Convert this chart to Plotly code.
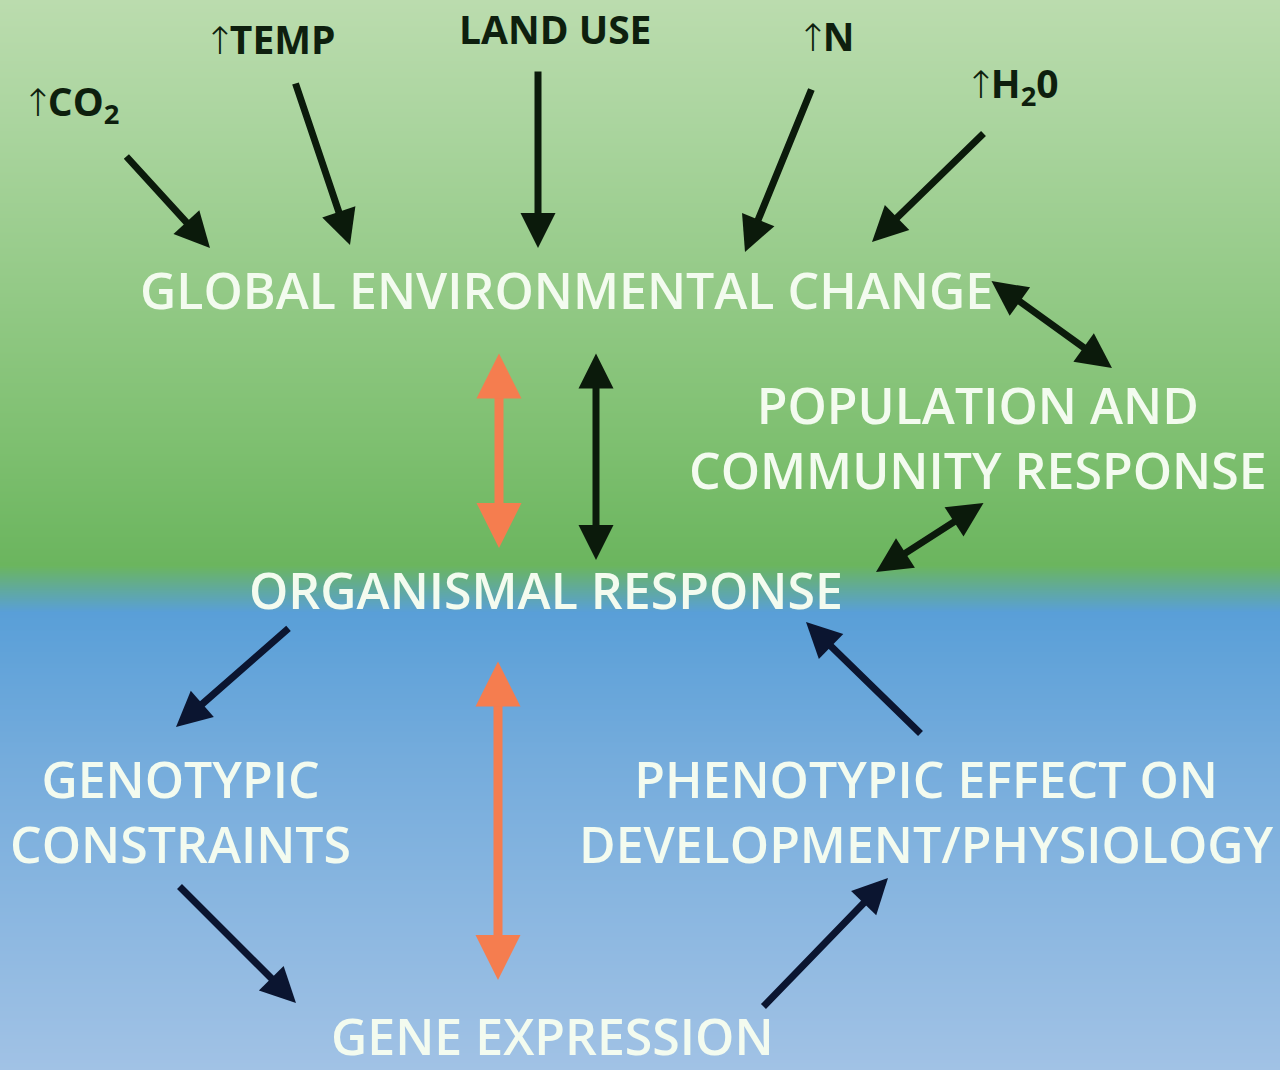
import plotly.graph_objects as go

W, H = 1280, 1070

# ---- node labels (diagram text) ----
driver_labels = ["↑CO<sub>2</sub>", "↑TEMP", "LAND USE", "↑N", "↑H<sub>2</sub>0"]
driver_x = [70, 270, 555, 826, 1012]
driver_y = [103, 38, 28, 35, 85]

node_labels = [
    "GLOBAL ENVIRONMENTAL CHANGE",
    "POPULATION AND<br>COMMUNITY RESPONSE",
    "ORGANISMAL RESPONSE",
    "GENOTYPIC<br>CONSTRAINTS",
    "PHENOTYPIC EFFECT ON<br>DEVELOPMENT/PHYSIOLOGY",
    "GENE EXPRESSION",
]
node_x = [566, 978, 546, 180, 926, 552]
node_y = [290, 437, 590, 811, 811, 1036]

# ---- links: (tail x, tail y, head x, head y, double-headed, kind) ----
link_tail_x = [125, 295, 538, 812, 985, 990, 596, 499, 985, 290, 922, 498, 178, 762]
link_tail_y = [155, 82, 70, 88, 132, 280, 352, 352, 502, 627, 735, 660, 885, 1008]
link_head_x = [210, 350, 538, 745, 872, 1112, 596, 499, 876, 176, 806, 498, 296, 888]
link_head_y = [248, 245, 248, 252, 242, 368, 560, 548, 572, 727, 622, 980, 1003, 878]
link_double = [False, False, False, False, False, True, True, True, True,
               False, False, True, False, False]
link_kind = ["dark", "dark", "dark", "dark", "dark", "dark", "dark", "orange", "dark",
             "navy", "navy", "orange", "navy", "navy"]

# ---- background gradient stops (y pixel, colour) ----
grad_pos = [0, 120, 300, 450, 565, 590, 612, 760, 1070]
grad_col = ["#bbdcae", "#abd59f", "#92c985", "#7dbf6f", "#6bb55e",
            "#60a9a0", "#599fd8", "#75acdc", "#a1c2e5"]

colors = {"dark": "#0b1a0b", "navy": "#0b1530", "orange": "#f57d4f"}

fig = go.Figure()

# background as a smooth heatmap
ys = list(range(0, H + 1, 5))
fig.add_trace(go.Heatmap(
    x=[-10, W + 10], y=ys, z=[[v, v] for v in ys],
    colorscale=[[p / H, c] for p, c in zip(grad_pos, grad_col)],
    zmin=0, zmax=H, showscale=False, zsmooth="best", hoverinfo="skip"))

ann = []
for tx, ty, hx, hy, dbl, kind in zip(link_tail_x, link_tail_y, link_head_x,
                                     link_head_y, link_double, link_kind):
    orange = kind == "orange"
    ann.append(dict(
        x=hx, y=hy, ax=tx, ay=ty, xref="x", yref="y", axref="x", ayref="y",
        text="", showarrow=True, arrowcolor=colors[kind],
        arrowwidth=9 if orange else 7,
        arrowhead=2, startarrowhead=2,
        arrowsize=1.0, startarrowsize=1.0,
        arrowside="end+start" if dbl else "end", standoff=0, startstandoff=0))

for t, x, y in zip(driver_labels, driver_x, driver_y):
    t = t.replace("↑", "<span style='font-family:DejaVu Sans;font-size:38px;font-weight:300;letter-spacing:-6px'>↑</span>")
    ann.append(dict(x=x, y=y, xref="x", yref="y", text=t, showarrow=False,
                    font=dict(family="Open Sans", size=39, color="#0e1f0e", weight=700)))

for t, x, y in zip(node_labels, node_x, node_y):
    ann.append(dict(x=x, y=y, xref="x", yref="y", text=t, showarrow=False,
                    align="center",
                    font=dict(family="Open Sans", size=50, color="#f3fbef", weight=600)))

fig.update_layout(
    width=W, height=H, margin=dict(l=0, r=0, t=0, b=0),
    paper_bgcolor="#9fc0e3", plot_bgcolor="#9fc0e3",
    xaxis=dict(range=[0, W], visible=False, fixedrange=True),
    yaxis=dict(range=[H, 0], visible=False, fixedrange=True),
    annotations=ann, showlegend=False)

fig.write_html("out.html", config={"displayModeBar": False},
               post_script="document.body.style.margin='0';document.body.style.overflow='hidden';")
